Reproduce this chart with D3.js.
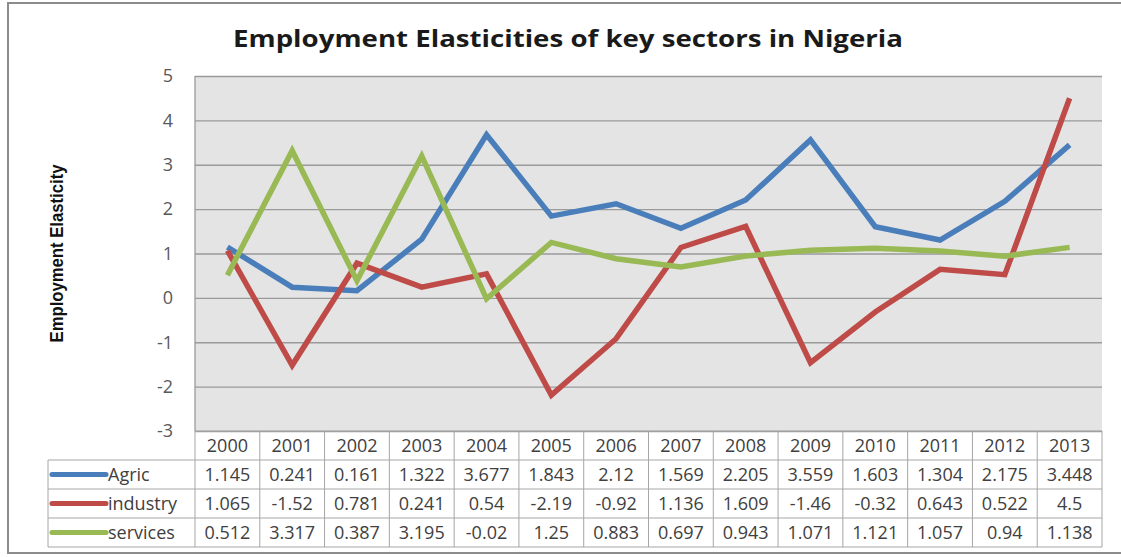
<!DOCTYPE html>
<html>
<head>
<meta charset="utf-8">
<script src="https://cdn.jsdelivr.net/npm/d3@7"></script>
<style>
  body { margin: 0; background: #fff; }
  text { font-family: "Open Sans", "Liberation Sans", sans-serif; }
</style>
</head>
<body>
<div id="chart"></div>
<script>
var years = ["2000","2001","2002","2003","2004","2005","2006","2007","2008","2009","2010","2011","2012","2013"];
var agric = [1.145, 0.241, 0.161, 1.322, 3.677, 1.843, 2.12, 1.569, 2.205, 3.559, 1.603, 1.304, 2.175, 3.448];
var industry = [1.065, -1.52, 0.781, 0.241, 0.54, -2.19, -0.92, 1.136, 1.609, -1.46, -0.32, 0.643, 0.522, 4.5];
var services = [0.512, 3.317, 0.387, 3.195, -0.02, 1.25, 0.883, 0.697, 0.943, 1.071, 1.121, 1.057, 0.94, 1.138];
var seriesNames = ["Agric", "industry", "services"];
var seriesColors = ["#4a7ebb", "#be4b48", "#98b954"];
var yTicks = [-3, -2, -1, 0, 1, 2, 3, 4, 5];

(function() {
  var width = 1121, height = 557;
  var plotL = 195, plotR = 1102, plotT = 76, plotB = 431;
  var rowH = 29;
  var cellFont = "18px";

  var series = [agric, industry, services];

  var svg = d3.select("#chart").append("svg")
      .attr("width", width)
      .attr("height", height);

  // outer frame
  svg.append("rect")
      .attr("x", 8).attr("y", 3)
      .attr("width", width + 10).attr("height", 550)
      .attr("fill", "#fff")
      .attr("stroke", "#8c8c8c")
      .attr("stroke-width", 2);

  var x = d3.scaleBand().domain(years).range([plotL, plotR]);
  var y = d3.scaleLinear().domain([-3, 5]).range([plotB, plotT]);

  // plot area
  svg.append("rect")
      .attr("x", plotL).attr("y", plotT)
      .attr("width", plotR - plotL).attr("height", plotB - plotT)
      .attr("fill", "#e4e4e4");

  // gridlines
  svg.append("g")
      .attr("transform", "translate(" + plotL + ",0)")
      .call(d3.axisLeft(y).tickValues(yTicks).tickSize(-(plotR - plotL)).tickFormat(""))
      .call(function(g) { g.select(".domain").remove(); })
      .selectAll("line")
      .attr("stroke", "#9a9a9a")
      .attr("stroke-width", 1.3);

  svg.append("line")
      .attr("x1", plotL).attr("x2", plotL)
      .attr("y1", plotT).attr("y2", plotB)
      .attr("stroke", "#9a9a9a").attr("stroke-width", 1.3);

  // y tick labels (plain hyphen like the original)
  svg.append("g")
      .attr("transform", "translate(" + (plotL - 22) + ",0)")
      .call(d3.axisLeft(y).tickValues(yTicks).tickSize(0).tickPadding(0)
        .tickFormat(function(d) { return String(d); }))
      .call(function(g) { g.select(".domain").remove(); })
      .selectAll("text")
      .attr("fill", "#595959")
      .style("font-size", "18px")
      .style("font-family", "'Open Sans', sans-serif");

  // y title
  svg.append("text")
      .attr("transform", "translate(63," + ((plotT + plotB) / 2) + ") rotate(-90)")
      .attr("text-anchor", "middle")
      .attr("textLength", 178)
      .attr("lengthAdjust", "spacingAndGlyphs")
      .style("font-family", "'Liberation Sans Narrow', 'Liberation Sans', sans-serif")
      .style("font-weight", "bold")
      .style("font-size", "18px")
      .attr("fill", "#111")
      .text("Employment Elasticity");

  // title
  svg.append("text")
      .attr("x", 568).attr("y", 47)
      .attr("text-anchor", "middle")
      .attr("textLength", 670)
      .attr("lengthAdjust", "spacingAndGlyphs")
      .style("font-weight", "bold")
      .style("font-size", "23px")
      .attr("fill", "#1a1a1a")
      .text("Employment Elasticities of key sectors in Nigeria");

  // lines
  var line = d3.line()
      .x(function(d, i) { return x(years[i]) + x.bandwidth() / 2; })
      .y(function(d) { return y(d); });

  svg.selectAll(".series")
      .data(series)
      .enter().append("path")
      .attr("class", "series")
      .attr("d", line)
      .attr("fill", "none")
      .attr("stroke", function(d, i) { return seriesColors[i]; })
      .attr("stroke-width", 5.5)
      .attr("stroke-linejoin", "miter");

  // data table
  var tbl = svg.append("g");
  var legendLeft = 48;
  var gridColor = "#a6a6a6";

  tbl.selectAll(".hdr")
      .data(years)
      .enter().append("text")
      .attr("class", "hdr")
      .attr("x", function(d) { return x(d) + x.bandwidth() / 2; })
      .attr("y", plotB + rowH / 2)
      .attr("dy", "0.35em")
      .attr("text-anchor", "middle")
      .style("font-size", cellFont)
      .attr("fill", "#404040")
      .text(function(d) { return d; });

  series.forEach(function(vals, r) {
    var cy = plotB + rowH * (r + 1) + rowH / 2;
    tbl.selectAll(".cell" + r)
        .data(vals)
        .enter().append("text")
        .attr("x", function(d, i) { return x(years[i]) + x.bandwidth() / 2; })
        .attr("y", cy)
        .attr("dy", "0.35em")
        .attr("text-anchor", "middle")
        .style("font-size", cellFont)
        .attr("fill", "#404040")
        .text(function(d) { return String(d); });

    tbl.append("line")
        .attr("x1", 52).attr("x2", 106)
        .attr("y1", cy).attr("y2", cy)
        .attr("stroke", seriesColors[r])
        .attr("stroke-width", 5)
        .attr("stroke-linecap", "round");
    tbl.append("text")
        .attr("x", 108).attr("y", cy)
        .attr("dy", "0.35em")
        .style("font-size", cellFont)
        .attr("fill", "#404040")
        .text(seriesNames[r]);
  });

  // table grid lines
  var tableBottom = plotB + rowH * 4;
  [0, 1, 2, 3, 4].forEach(function(r) {
    tbl.append("line")
        .attr("x1", r === 0 ? plotL : legendLeft).attr("x2", plotR)
        .attr("y1", plotB + rowH * r).attr("y2", plotB + rowH * r)
        .attr("stroke", gridColor).attr("stroke-width", 1);
  });
  tbl.append("line")
      .attr("x1", legendLeft).attr("x2", legendLeft)
      .attr("y1", plotB + rowH).attr("y2", tableBottom)
      .attr("stroke", gridColor);
  years.concat(["end"]).forEach(function(yr) {
    var xx = yr === "end" ? plotR : x(yr);
    tbl.append("line")
        .attr("x1", xx).attr("x2", xx)
        .attr("y1", plotB).attr("y2", tableBottom)
        .attr("stroke", gridColor);
  });
})();
</script>
</body>
</html>
